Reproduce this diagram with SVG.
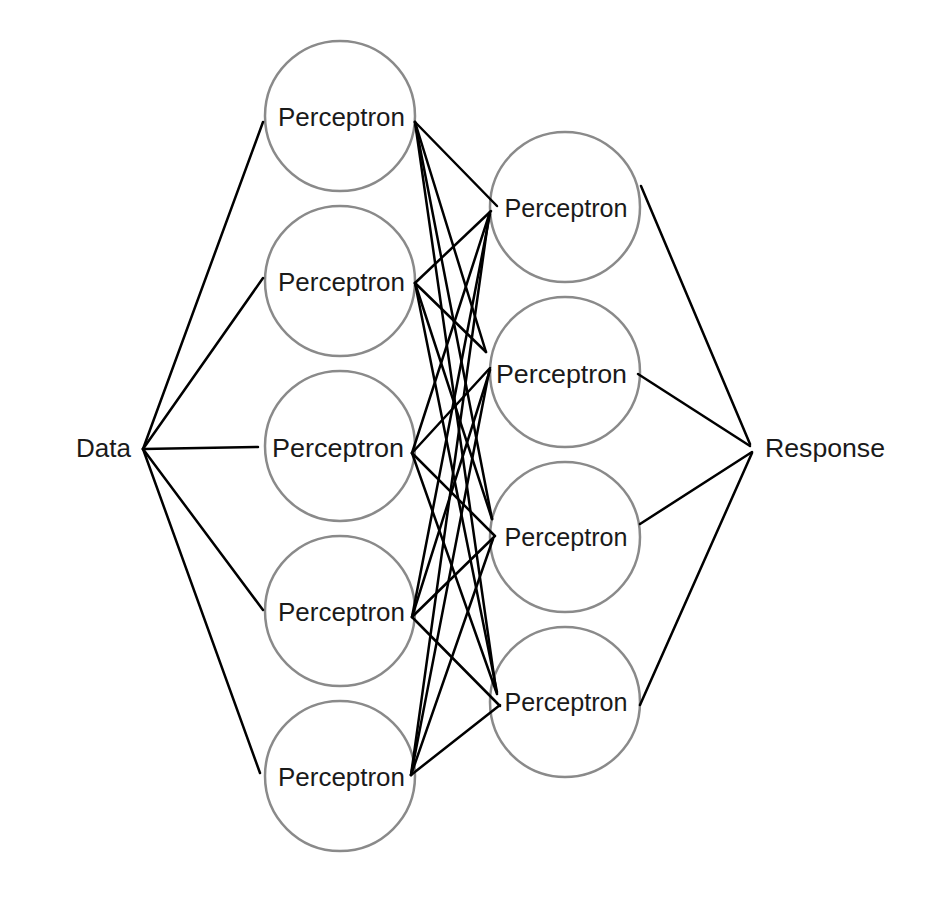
<svg xmlns="http://www.w3.org/2000/svg" width="952" height="900" viewBox="0 0 952 900">
<style>
.node circle{fill:#fff;stroke:#8a8a8a;stroke-width:2.5}
text{font-family:"Liberation Sans",Arial,sans-serif;fill:#1a1a1a;text-anchor:middle}
.p{font-size:25px}
.pl{font-size:26.5px}
.lbl{font-size:25px}
#connectors line{stroke:#000;stroke-width:2.5;stroke-linecap:round}
</style>
<rect width="952" height="900" fill="#fff"/>
<g id="L1" class="node"><circle cx="340" cy="116" r="75"/><text class="p" x="341.5" y="126" textLength="127" lengthAdjust="spacingAndGlyphs">Perceptron</text></g>
<g id="L2" class="node"><circle cx="340" cy="281" r="75"/><text class="p" x="341.5" y="291" textLength="127" lengthAdjust="spacingAndGlyphs">Perceptron</text></g>
<g id="L3" class="node"><circle cx="340" cy="446" r="75"/><text class="pl" x="338" y="457" textLength="132" lengthAdjust="spacingAndGlyphs">Perceptron</text></g>
<g id="L4" class="node"><circle cx="340" cy="611" r="75"/><text class="p" x="341.5" y="621" textLength="127" lengthAdjust="spacingAndGlyphs">Perceptron</text></g>
<g id="L5" class="node"><circle cx="340" cy="776" r="75"/><text class="p" x="341.5" y="786" textLength="127" lengthAdjust="spacingAndGlyphs">Perceptron</text></g>
<g id="R1" class="node"><circle cx="565" cy="207" r="75"/><text class="p" x="566" y="217" textLength="123" lengthAdjust="spacingAndGlyphs">Perceptron</text></g>
<g id="R2" class="node"><circle cx="565" cy="372" r="75"/><text class="pl" x="561.5" y="383" textLength="131" lengthAdjust="spacingAndGlyphs">Perceptron</text></g>
<g id="R3" class="node"><circle cx="565" cy="537" r="75"/><text class="p" x="566" y="546" textLength="123" lengthAdjust="spacingAndGlyphs">Perceptron</text></g>
<g id="R4" class="node"><circle cx="565" cy="702" r="75"/><text class="p" x="566" y="711" textLength="123" lengthAdjust="spacingAndGlyphs">Perceptron</text></g>
<g id="Data" class="node"><text class="lbl" x="103.5" y="457" textLength="55" lengthAdjust="spacingAndGlyphs">Data</text></g>
<g id="Response" class="node"><text class="lbl" x="825" y="457" textLength="120" lengthAdjust="spacingAndGlyphs">Response</text></g>
<g id="connectors">
<line x1="143" y1="449" x2="263" y2="122"/>
<line x1="143" y1="449" x2="263" y2="278"/>
<line x1="143" y1="449" x2="258" y2="447"/>
<line x1="143" y1="449" x2="263" y2="610"/>
<line x1="143" y1="449" x2="260" y2="773"/>
<line x1="415" y1="122" x2="497" y2="206"/>
<line x1="415" y1="122" x2="486" y2="352"/>
<line x1="415" y1="122" x2="492" y2="519"/>
<line x1="415" y1="122" x2="496" y2="690"/>
<line x1="415" y1="283" x2="491" y2="211"/>
<line x1="415" y1="283" x2="486" y2="352"/>
<line x1="415" y1="283" x2="492" y2="519"/>
<line x1="415" y1="283" x2="497" y2="692"/>
<line x1="412" y1="453" x2="490" y2="212"/>
<line x1="412" y1="453" x2="490" y2="368"/>
<line x1="412" y1="453" x2="495" y2="536"/>
<line x1="412" y1="453" x2="497" y2="694"/>
<line x1="412" y1="617" x2="490" y2="214"/>
<line x1="412" y1="617" x2="490" y2="370"/>
<line x1="412" y1="617" x2="494" y2="537"/>
<line x1="412" y1="617" x2="500" y2="706"/>
<line x1="411" y1="775" x2="489" y2="215"/>
<line x1="411" y1="775" x2="489" y2="372"/>
<line x1="411" y1="775" x2="493" y2="539"/>
<line x1="411" y1="775" x2="500" y2="705"/>
<line x1="641" y1="186" x2="750" y2="444"/>
<line x1="638" y1="374" x2="750" y2="446"/>
<line x1="640" y1="524" x2="752" y2="452"/>
<line x1="640" y1="705" x2="752" y2="453"/>
</g>
</svg>
